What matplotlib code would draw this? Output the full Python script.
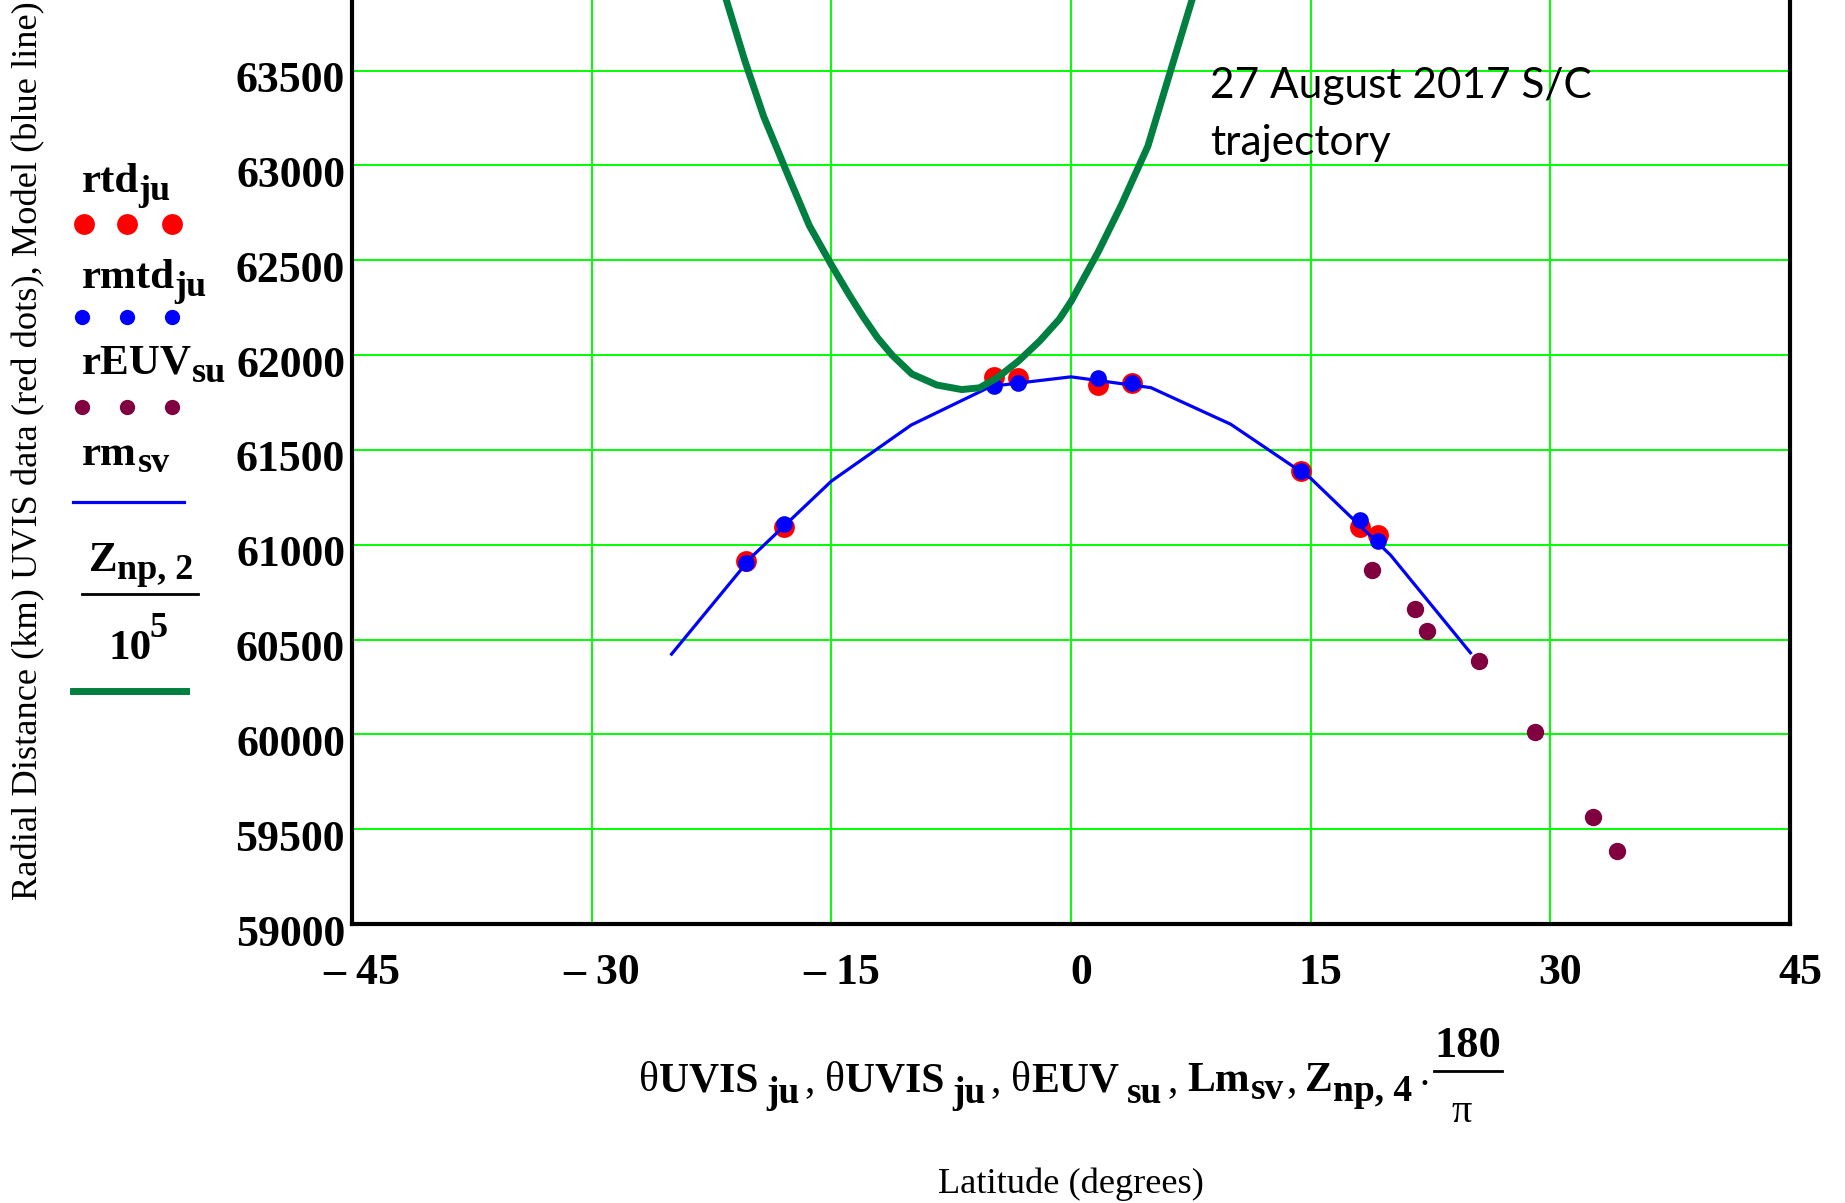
import matplotlib
matplotlib.use("Agg")
import matplotlib.pyplot as plt
from matplotlib.transforms import ScaledTranslation

# UVIS latitudes (deg), measured radius and model radius at the same latitudes (km)
uvis_lat = [-20.31, -17.98, -4.82, -3.29, 1.71, 3.82, 14.41, 18.07, 19.2]
uvis_r = [60914, 61095, 61883, 61880, 61844, 61851, 61390, 61095, 61050]
uvis_model_r = [60902, 61107, 61835, 61853, 61880, 61851, 61387, 61129, 61017]

# EUV points
euv_lat = [18.83, 21.52, 22.28, 25.54, 29.01, 32.65, 34.18]
euv_r = [60869, 60662, 60547, 60385, 60014, 59565, 59385]

# model curve
model_lat = [-25, -20, -15, -10, -5, 0, 5, 10, 15, 20, 25]
model_r = [60423, 60935, 61335, 61631, 61835, 61885, 61828, 61635, 61350, 60945, 60430]

# spacecraft trajectory (Z_np,2 / 1e5 in the original worksheet)
traj_lat = [-21.6, -20.43, -19.24, -17.69, -16.38, -15.0, -13.9, -13.0, -12.1, -11.2,
            -9.96, -8.4, -6.84, -5.73, -4.62, -3.29, -1.96, -0.73, 0.0, 1.71,
            3.14, 4.81, 6.0, 7.6]
traj_r = [63880, 63556, 63259, 62944, 62683, 62476, 62320, 62200, 62090, 62000,
          61900, 61842, 61818, 61827, 61880, 61968, 62074, 62189, 62282, 62545,
          62789, 63101, 63434, 63880]

xticks = [-45, -30, -15, 0, 15, 30, 45]
xtick_labels = ["\u2013 45", "\u2013 30", "\u2013 15", "0", "15", "30", "45"]
yticks = [59000, 59500, 60000, 60500, 61000, 61500, 62000, 62500, 63000, 63500]

W, H = 1845, 1203
SERIF = 'Liberation Serif'
fig = plt.figure(figsize=(W / 100, H / 100), dpi=100)
fig.patch.set_facecolor('white')
renderer = fig.canvas.get_renderer()

# overlay in pixel coords for the Mathcad style legend and x label
lax = fig.add_axes([0, 0, 1, 1], zorder=-1)
lax.set_xlim(0, W)
lax.set_ylim(H, 0)
lax.axis('off')

ax = fig.add_axes([352 / W, 1 - 924 / H, (1790 - 352) / W, 924 / H])
ax.set_xlim(-45, 45)
ax.set_ylim(59000, 63872)
ax.set_xticks(xticks)
ax.set_xticklabels(xtick_labels)
ax.set_yticks(yticks)
ax.set_yticklabels([str(v) for v in yticks])
ax.grid(True, color='#00ff00', linewidth=1.4)
ax.set_axisbelow(True)
ax.tick_params(length=0, labelsize=31.5)
ax.tick_params(axis='x', pad=21)
ax.tick_params(axis='y', pad=5)
for lbl in ax.get_xticklabels() + ax.get_yticklabels():
    lbl.set_fontfamily(SERIF)
    lbl.set_fontweight('bold')
for spine in ['left', 'bottom', 'right']:
    ax.spines[spine].set_linewidth(3)
ax.spines['top'].set_visible(False)

ax.plot(uvis_lat, uvis_r, 'o', color='#ff0000', ms=15, mec='none', zorder=3)
ax.plot(uvis_lat, uvis_model_r, 'o', color='#0000ff', ms=12, mec='none', zorder=4)
ax.plot(euv_lat, euv_r, 'o', color='#800040', ms=12.5, mec='none', zorder=4)
ax.plot(model_lat, model_r, '-', color='#0000ff', lw=2.3, zorder=5)
ax.plot(traj_lat, traj_r, '-', color='#007f40', lw=5, zorder=6)

ax.text(8.69, 63353, '27 August 2017 S/C', family='Lato', fontsize=30.5, va='baseline')
ax.text(8.69, 63054, 'trajectory', family='Lato', fontsize=30.5, va='baseline')

# shift tick labels like Mathcad does
for lbl in ax.get_xticklabels():
    lbl.set_transform(lbl.get_transform() + ScaledTranslation(0.10, 0, fig.dpi_scale_trans))
for lbl in ax.get_yticklabels():
    lbl.set_transform(lbl.get_transform() + ScaledTranslation(0, -0.06, fig.dpi_scale_trans))


def text_width(s, size, weight):
    t = lax.text(0, 0, s, fontsize=size, fontweight=weight, family=SERIF)
    w = t.get_window_extent(renderer).width
    t.remove()
    return w


def run_text(x, y, pieces, center=False):
    # pieces: (text, size, baseline shift px, weight, gap px)
    widths = [text_width(s, sz, wt) + gap for s, sz, dy, wt, gap in pieces]
    if center:
        x -= sum(widths) / 2
    for (s, sz, dy, wt, gap), w in zip(pieces, widths):
        lax.text(x, y + dy, s, fontsize=sz, fontweight=wt, family=SERIF, va='baseline')
        x += w
    return x


MAIN, SUB = 31, 26
B = 'bold'
R = 'normal'

# legend
lx = 82
run_text(lx, 192, [('rtd', MAIN, 0, B, -1), ('ju', SUB, 8, B, 0)])
lax.plot([84, 127, 172], [224, 224, 224], 'o', color='#ff0000', ms=15, mec='none')
run_text(lx, 288, [('rmtd', MAIN, 0, B, -1), ('ju', SUB, 8, B, 0)])
lax.plot([82, 127, 172], [317, 317, 317], 'o', color='#0000ff', ms=11, mec='none')
run_text(lx, 374, [('rEUV', MAIN, 0, B, 0), ('su', SUB, 8, B, 0)])
lax.plot([82, 127, 172], [407, 407, 407], 'o', color='#800040', ms=11, mec='none')
run_text(lx, 465, [('rm', MAIN, 0, B, 1), ('sv', SUB, 7, B, 0)])
lax.plot([73, 184], [502, 502], '-', color='#0000ff', lw=2.3)
run_text(141, 571, [('Z', MAIN, 0, B, 0), ('np, 2', SUB, 8, B, 0)], center=True)
lax.plot([82, 198], [594, 594], '-', color='black', lw=2)
run_text(138, 659, [('10', MAIN, 0, B, -2), ('5', SUB, -22, B, 0)], center=True)
lax.plot([73, 186], [691, 691], '-', color='#007f40', lw=5)

fig.text(29 / W, 1 - 451 / H, 'Radial Distance (km) UVIS data (red dots), Model (blue line)',
         rotation=90, ha='center', va='center', family=SERIF, fontsize=26.2)

# x axis expression, Mathcad style
XM, XS = 30, 27
xe = run_text(639, 1091, [
    ('\u03b8', XM, 0, R, 0), ('UVIS', XM, 0, B, 8), ('ju', XS, 12, B, 5), (',', XM, 0, R, 10),
    ('\u03b8', XM, 0, R, 0), ('UVIS', XM, 0, B, 8), ('ju', XS, 12, B, 5), (',', XM, 0, R, 10),
    ('\u03b8', XM, 0, R, 0), ('EUV', XM, 0, B, 8), ('su', XS, 12, B, 5), (',', XM, 0, R, 10),
    ('Lm', XM, 0, B, 1), ('sv', XS, 8, B, 2), (',', XM, 0, R, 8),
    ('Z', XM, 0, B, 0), ('np, 4', XS, 10, B, 6), ('\u00b7', XM, 6, R, 2),
])
bar_x0, bar_x1 = xe, xe + 68
lax.plot([bar_x0, bar_x1], [1071, 1071], '-', color='black', lw=2)
lax.text((bar_x0 + bar_x1) / 2, 1057, '180', fontsize=32, fontweight=B, family=SERIF,
         ha='center', va='baseline')
lax.text((bar_x0 + bar_x1) / 2 - 6, 1122, '\u03c0', fontsize=29, family=SERIF,
         ha='center', va='baseline')

fig.text(1071 / W, 1 - 1184 / H, 'Latitude (degrees)', ha='center', va='center',
         family=SERIF, fontsize=26.2)

fig.savefig('out.png', dpi=100, facecolor='white')
